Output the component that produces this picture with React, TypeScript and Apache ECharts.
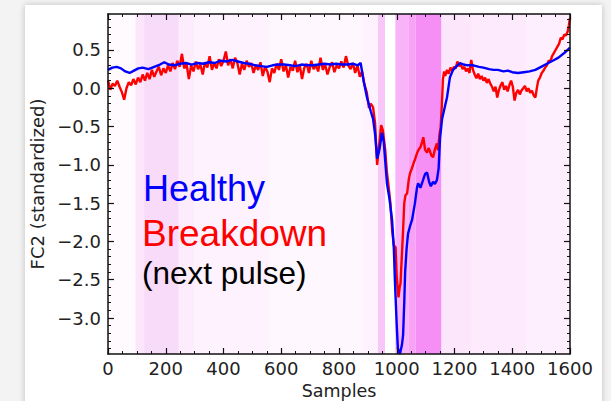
import React, { useEffect, useRef } from "react";
import * as echarts from "echarts";

// ---- data (samples, value) ----
const healthy: [number, number][] = [
  [0, 0.24], [15, 0.27], [30, 0.28], [45, 0.26], [60, 0.22], [75, 0.2], [90, 0.23], [105, 0.26],
  [120, 0.27], [140, 0.25], [160, 0.28], [180, 0.31], [195, 0.34], [210, 0.31], [230, 0.3],
  [250, 0.32], [270, 0.33], [290, 0.31], [310, 0.33], [330, 0.32], [350, 0.34], [370, 0.33],
  [390, 0.36], [410, 0.35], [430, 0.37], [450, 0.35], [470, 0.33], [490, 0.32], [510, 0.3],
  [530, 0.29], [550, 0.28], [570, 0.3], [590, 0.31], [610, 0.31], [630, 0.3], [650, 0.29],
  [670, 0.31], [690, 0.3], [710, 0.3], [730, 0.31], [750, 0.32], [770, 0.31], [790, 0.32],
  [810, 0.31], [830, 0.31], [850, 0.32], [865, 0.3], [875, 0.33], [885, 0.1], [897, -0.12],
  [910, -0.3], [918, -0.4], [925, -0.6], [932, -0.92], [940, -0.8], [949, -0.58], [955, -0.7],
  [960, -0.95], [966, -1.24], [975, -1.45], [984, -1.73], [990, -2.1], [994, -2.55], [1000, -3.1],
  [1004, -3.4], [1011, -3.47], [1018, -3.35], [1022, -3.22], [1026, -2.8], [1029, -2.4],
  [1034, -2.1], [1039, -1.9], [1046, -1.8], [1053, -1.72], [1063, -1.5], [1070, -1.3],
  [1074, -1.24], [1082, -1.3], [1091, -1.2], [1098, -1.12], [1105, -1.1], [1112, -1.22],
  [1118, -1.28], [1126, -1.22], [1132, -1.25], [1139, -1.2], [1145, -1.05], [1150, -0.65],
  [1157, -0.4], [1166, -0.25], [1174, -0.12], [1184, 0.14], [1195, 0.24], [1205, 0.28],
  [1219, 0.33], [1232, 0.31], [1245, 0.3], [1265, 0.3], [1285, 0.28], [1300, 0.27], [1320, 0.25],
  [1335, 0.24], [1350, 0.24], [1370, 0.22], [1385, 0.23], [1400, 0.21], [1420, 0.2], [1440, 0.21],
  [1460, 0.22], [1480, 0.24], [1500, 0.28], [1520, 0.32], [1540, 0.36], [1560, 0.4], [1580, 0.46],
  [1600, 0.53],
];

const breakdown: [number, number][] = [
  [0, 0.1], [8, -0.02], [16, 0.06], [24, 0.03], [32, 0.1], [40, 0.02], [48, -0.05], [56, -0.15],
  [64, 0.0], [72, 0.08], [80, 0.04], [88, 0.12], [96, 0.05], [104, 0.14], [112, 0.08], [120, 0.18],
  [128, 0.1], [136, 0.2], [144, 0.12], [152, 0.24], [160, 0.15], [168, 0.22], [176, 0.28],
  [184, 0.17], [192, 0.26], [200, 0.2], [208, 0.3], [216, 0.22], [224, 0.33], [232, 0.25],
  [240, 0.36], [248, 0.28], [256, 0.45], [264, 0.26], [272, 0.32], [280, 0.12], [288, 0.3],
  [296, 0.22], [304, 0.35], [312, 0.25], [320, 0.31], [328, 0.18], [336, 0.34], [344, 0.27],
  [352, 0.42], [360, 0.24], [368, 0.33], [376, 0.26], [384, 0.38], [392, 0.29], [400, 0.36],
  [408, 0.48], [416, 0.3], [424, 0.38], [432, 0.26], [440, 0.4], [448, 0.33], [456, 0.18],
  [464, 0.32], [472, 0.24], [480, 0.36], [488, 0.28], [496, 0.33], [504, 0.2], [512, 0.3],
  [520, 0.24], [528, 0.34], [536, 0.16], [544, 0.28], [552, 0.22], [560, 0.08], [568, 0.26],
  [576, 0.2], [584, 0.32], [592, 0.24], [600, 0.38], [608, 0.22], [616, 0.3], [624, 0.14],
  [632, 0.28], [640, 0.23], [648, 0.36], [656, 0.21], [664, 0.3], [672, 0.12], [680, 0.27],
  [688, 0.32], [696, 0.2], [704, 0.36], [712, 0.25], [720, 0.3], [728, 0.22], [736, 0.4],
  [744, 0.24], [752, 0.31], [760, 0.18], [768, 0.28], [776, 0.34], [784, 0.21], [792, 0.3],
  [800, 0.26], [808, 0.35], [816, 0.27], [824, 0.42], [832, 0.3], [840, 0.25], [848, 0.33],
  [856, 0.2], [864, 0.3], [872, 0.15], [880, 0.22], [888, 0.05], [896, -0.05], [904, -0.26],
  [910, -0.2], [918, -0.25], [925, -0.46], [932, -1.0], [940, -0.7], [946, -0.48], [952, -0.55],
  [960, -0.8], [966, -1.1], [972, -1.29], [978, -1.5], [984, -1.86], [990, -2.05], [996, -2.08],
  [1000, -2.47], [1006, -2.73], [1010, -2.6], [1013, -2.55], [1018, -2.16], [1022, -1.85],
  [1026, -1.5], [1030, -1.4], [1036, -1.37], [1042, -1.18], [1046, -1.11], [1052, -1.05],
  [1058, -0.98], [1064, -0.92], [1070, -0.85], [1076, -0.8], [1082, -0.77], [1088, -0.7],
  [1092, -0.64], [1098, -0.8], [1105, -0.84], [1110, -0.78], [1115, -0.82], [1120, -0.88],
  [1126, -0.9], [1132, -0.8], [1139, -0.72], [1143, -0.81], [1148, -0.6], [1152, -0.51],
  [1156, -0.24], [1160, 0.12], [1164, 0.22], [1168, 0.16], [1174, 0.24], [1180, 0.19],
  [1186, 0.27], [1192, 0.23], [1198, 0.28], [1204, 0.26], [1210, 0.35], [1216, 0.29],
  [1222, 0.31], [1228, 0.25], [1234, 0.28], [1240, 0.22], [1246, 0.26], [1252, 0.2], [1258, 0.37],
  [1264, 0.24], [1270, 0.18], [1276, 0.13], [1282, 0.19], [1288, 0.12], [1294, 0.16], [1300, 0.1],
  [1306, 0.14], [1312, 0.07], [1318, 0.12], [1324, 0.06], [1330, 0.02], [1336, -0.04],
  [1342, 0.02], [1348, -0.12], [1354, -0.02], [1360, 0.04], [1366, 0.08], [1372, -0.02],
  [1378, 0.03], [1384, -0.04], [1390, 0.04], [1396, 0.1], [1402, 0.02], [1408, -0.16],
  [1414, -0.06], [1420, -0.02], [1426, -0.08], [1432, -0.03], [1438, 0.0], [1444, 0.03],
  [1450, -0.04], [1456, 0.0], [1462, -0.06], [1468, -0.03], [1474, -0.09], [1480, -0.12],
  [1486, 0.02], [1490, 0.1], [1496, 0.14], [1502, 0.2], [1508, 0.23], [1514, 0.27], [1520, 0.3],
  [1526, 0.36], [1532, 0.35], [1538, 0.42], [1544, 0.46], [1550, 0.5], [1556, 0.54], [1562, 0.58],
  [1568, 0.66], [1574, 0.64], [1580, 0.7], [1586, 0.69], [1592, 0.74], [1596, 0.82], [1600, 0.92],
];

// attention shading bands: [start, end, colour]
const bandStarts = [0, 95, 125, 245, 300, 560, 880, 935, 960, 995, 1040, 1065, 1155, 1260, 1450];
const bandEnds = [95, 125, 245, 300, 560, 880, 935, 960, 995, 1040, 1065, 1155, 1260, 1450, 1600];
const bandColors = [
  "#fefafe", "#fbe6fb", "#f8dbf8", "#fcecfc", "#fdf2fd", "#fef7fe", "#fdf2fd", "#f8c6f8",
  "#ffffff", "#f9b4f9", "#f7a2f7", "#f58ef5", "#fce6fc", "#fdebfd", "#fdeffd",
];

const yMajorTicks = [-3.0, -2.5, -2.0, -1.5, -1.0, -0.5, 0.0, 0.5];
const xTickLabels = [0, 200, 400, 600, 800, 1000, 1200, 1400, 1600];
const legendLines = ["Healthy", "Breakdown", "(next pulse)"];

const Y_MIN = -3.47;
const Y_MAX = 0.97;

export default function App() {
  const ref = useRef<HTMLDivElement>(null);
  useEffect(() => {
    if (!ref.current) return;
    const chart = echarts.init(ref.current, undefined, { renderer: "svg" });
    const yMinor: number[] = [];
    for (let i = -34; i <= 9; i++) {
      if (i % 5 !== 0) yMinor.push(i / 10);
    }
    const tickFont = { fontFamily: "DejaVu Sans", fontSize: 18, color: "#222" };
    const axisLine = { show: true, onZero: false, lineStyle: { color: "#111", width: 1.5 } };
    const noLine = { show: false, onZero: false };
    const majorTick = { show: true, inside: true, length: 6, lineStyle: { color: "#111", width: 1.2 } };
    const minorTick = { show: true, splitNumber: 4, length: 3, lineStyle: { color: "#111", width: 1 } };
    const fmt = (v: number) => v.toFixed(1).replace("-", "\u2212");

    const markData = bandStarts.map((s, i) => [
      { xAxis: s, itemStyle: { color: bandColors[i] } },
      { xAxis: bandEnds[i] },
    ]);

    chart.setOption({
      animation: false,
      backgroundColor: "transparent",
      grid: { left: 108, top: 14, right: 41, bottom: 47, containLabel: false, outerBoundsMode: "none" },
      xAxis: [
        {
          type: "value", min: 0, max: 1600, interval: 200, position: "bottom", z: 10,
          axisLine, axisTick: majorTick, minorTick,
          axisLabel: { ...tickFont, margin: 5, customValues: xTickLabels, formatter: (v: number) => String(v) },
          splitLine: { show: false },
          name: "Samples", nameLocation: "middle", nameGap: 26,
          nameTextStyle: { fontFamily: "DejaVu Sans", fontSize: 17.5, color: "#222" },
        },
        {
          type: "value", min: 0, max: 1600, interval: 200, position: "top", z: 10,
          axisLine, axisTick: majorTick, minorTick,
          axisLabel: { show: false }, splitLine: { show: false },
        },
      ],
      yAxis: [
        {
          type: "value", min: Y_MIN, max: Y_MAX, position: "left", z: 10,
          axisLine,
          axisTick: { ...majorTick, customValues: yMajorTicks },
          axisLabel: { ...tickFont, margin: 7, customValues: yMajorTicks, formatter: fmt },
          splitLine: { show: false },
          name: "FC2 (standardized)", nameLocation: "middle", nameGap: 57,
          nameTextStyle: { fontFamily: "DejaVu Sans", fontSize: 18, color: "#222" },
        },
        {
          type: "value", min: Y_MIN, max: Y_MAX, position: "left", z: 10,
          axisLine: noLine,
          axisTick: { show: true, inside: true, length: 3, customValues: yMinor, lineStyle: { color: "#111", width: 1 } },
          axisLabel: { show: false }, splitLine: { show: false },
        },
        {
          type: "value", min: Y_MIN, max: Y_MAX, position: "right", z: 10,
          axisLine,
          axisTick: { ...majorTick, customValues: yMajorTicks },
          axisLabel: { show: false }, splitLine: { show: false },
        },
        {
          type: "value", min: Y_MIN, max: Y_MAX, position: "right", z: 10,
          axisLine: noLine,
          axisTick: { show: true, inside: true, length: 3, customValues: yMinor, lineStyle: { color: "#111", width: 1 } },
          axisLabel: { show: false }, splitLine: { show: false },
        },
      ],
      series: [
        {
          type: "line", name: "Breakdown", data: breakdown, showSymbol: false, symbol: "none",
          lineStyle: { color: "#ff0000", width: 2.4 }, z: 3, clip: true,
          markArea: { silent: true, data: markData },
        },
        {
          type: "line", name: "Healthy", data: healthy, showSymbol: false, symbol: "none",
          lineStyle: { color: "#0000ff", width: 2.4 }, z: 4, clip: true,
        },
      ],
      graphic: [
        {
          type: "text", left: 143, top: 170, z: 10,
          style: { text: legendLines[0], fill: "#0000ff", font: '36px "Liberation Sans"' },
        },
        {
          type: "text", left: 142, top: 215, z: 10,
          style: { text: legendLines[1], fill: "#ff0000", font: '37px "Liberation Sans"' },
        },
        {
          type: "text", left: 142, top: 257, z: 10,
          style: { text: legendLines[2], fill: "#000000", font: '31.5px "Liberation Sans"' },
        },
      ],
    });
    return () => chart.dispose();
  }, []);

  return (
    <div style={{ position: "fixed", left: 0, top: 0, width: 611, height: 401, background: "#f3f3f3", overflow: "hidden" }}>
      <div style={{ position: "absolute", left: 25, top: 5, width: 577, height: 430, background: "#ffffff", boxShadow: "0 0 6px rgba(0,0,0,0.22)" }} />
      <div ref={ref} style={{ position: "absolute", left: 0, top: 0, width: 611, height: 401 }} />
    </div>
  );
}
